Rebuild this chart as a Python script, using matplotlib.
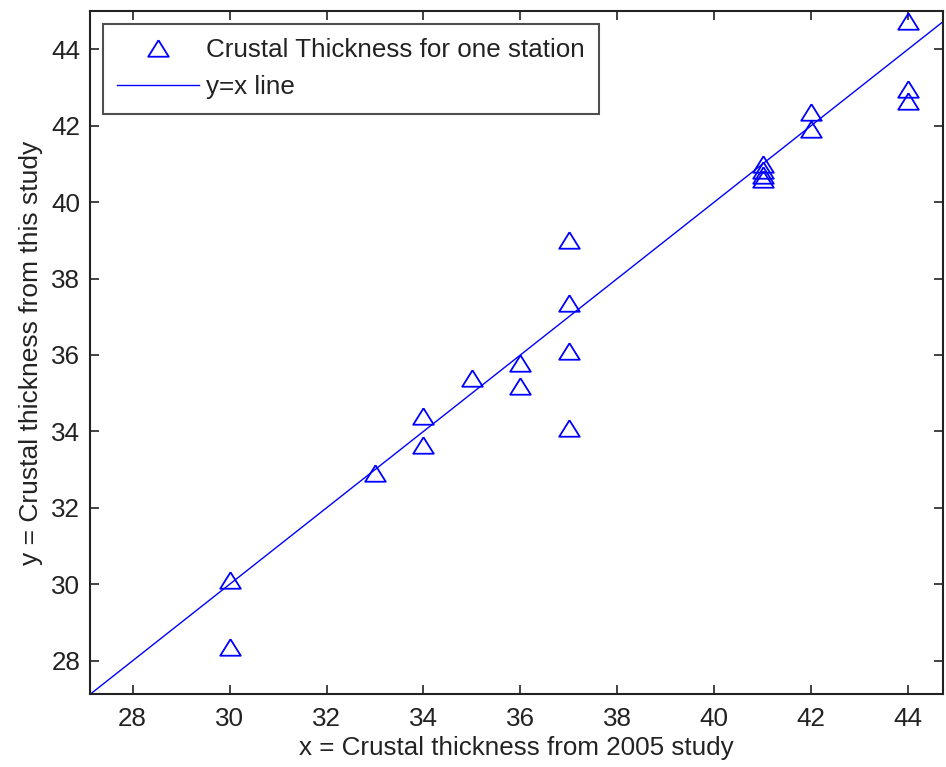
import matplotlib
matplotlib.use("Agg")
import matplotlib.pyplot as plt

plt.rcParams['font.family'] = ['Liberation Sans', 'DejaVu Sans']

x_2005 = [30, 30, 33, 34, 34, 35, 36, 36, 37, 37, 37, 37, 41, 41, 41, 41, 42, 42, 44, 44, 44]
y_this = [30.1, 28.35, 32.9, 34.4, 33.65, 35.4, 35.8, 35.2, 39.0, 37.35, 36.1, 34.1,
          41.0, 40.85, 40.7, 40.6, 42.35, 41.9, 44.75, 42.95, 42.65]
line_x = [27.12, 44.72]
xticks = [28, 30, 32, 34, 36, 38, 40, 42, 44]
yticks = [28, 30, 32, 34, 36, 38, 40, 42, 44]

FS = 18.7
tri = [(0, 0.8), (-1, -0.8), (1, -0.8), (0, 0.8)]

fig = plt.figure(figsize=(9.46, 7.67), dpi=100)
ax = fig.add_axes([90 / 946, 1 - 694 / 767, 853 / 946, 683 / 767])

ax.plot(x_2005, y_this, linestyle='none', marker=tri, markersize=14.8,
        markerfacecolor='none', markeredgecolor='#0000ff', markeredgewidth=1.3,
        label='Crustal Thickness for one station')
ax.plot(line_x, line_x, color='#0000ff', linewidth=1.0, label='y=x line')

ax.set_xlim(27.12, 44.72)
ax.set_ylim(27.13, 45.0)
ax.set_xticks(xticks)
ax.set_yticks(yticks)
ax.tick_params(direction='in', length=6.5, width=1.2, labelsize=FS, top=True, right=True,
               pad=7, colors='#222222', labelcolor='#222222')
ax.tick_params(axis='x', pad=9)
for s in ax.spines.values():
    s.set_linewidth(1.5)
    s.set_color('#222222')

ax.set_xlabel('x = Crustal thickness from 2005 study', fontsize=FS, labelpad=4, color='#222222')
ax.set_ylabel('y = Crustal thickness from this study', fontsize=19, labelpad=6, color='#222222')

leg = ax.legend(loc='upper left', fontsize=FS, frameon=True, fancybox=False,
                edgecolor='#222222', borderaxespad=0.5, handlelength=3.15,
                handletextpad=0.27, borderpad=0.55, labelspacing=0.5)
leg.get_frame().set_linewidth(1.5)
for t in leg.get_texts():
    t.set_color('#222222')

fig.savefig('out.png', dpi=100)
